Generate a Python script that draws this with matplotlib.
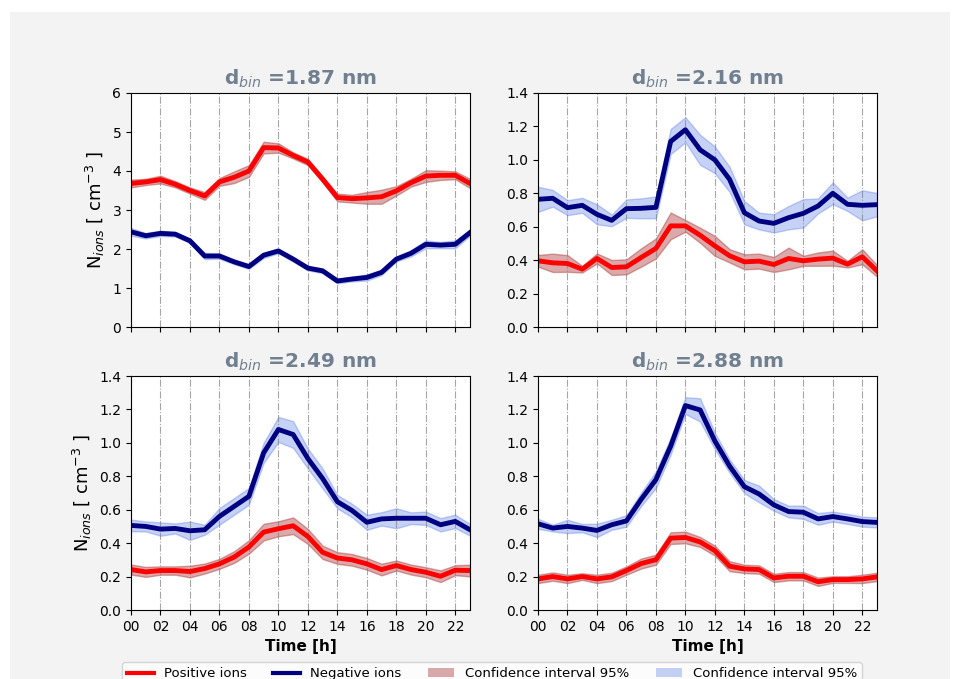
import numpy as np
import matplotlib
matplotlib.use("Agg")
import matplotlib.pyplot as plt
from matplotlib.patches import Rectangle, Patch
from matplotlib.lines import Line2D

hours = list(range(24))
xtick_labels = ["00", "02", "04", "06", "08", "10", "12", "14", "16", "18", "20", "22"]
titles = [r"d$_{bin}$ =1.87 nm", r"d$_{bin}$ =2.16 nm", r"d$_{bin}$ =2.49 nm", r"d$_{bin}$ =2.88 nm"]
ylims = [6, 1.4, 1.4, 1.4]

# d = 1.87 nm
pos_187 = [3.68, 3.72, 3.78, 3.66, 3.50, 3.36, 3.72, 3.84, 4.00, 4.60, 4.59, 4.40,
           4.23, 3.79, 3.32, 3.29, 3.31, 3.34, 3.49, 3.70, 3.87, 3.89, 3.89, 3.68]
pos_187_ci = [0.10, 0.08, 0.10, 0.08, 0.08, 0.10, 0.10, 0.15, 0.15, 0.15, 0.12, 0.08,
              0.08, 0.08, 0.10, 0.10, 0.15, 0.18, 0.12, 0.10, 0.15, 0.12, 0.10, 0.12]
neg_187 = [2.44, 2.34, 2.40, 2.38, 2.21, 1.82, 1.82, 1.67, 1.55, 1.84, 1.95, 1.74,
           1.51, 1.44, 1.18, 1.23, 1.27, 1.40, 1.74, 1.89, 2.12, 2.10, 2.12, 2.42]
neg_187_ci = [0.10, 0.07, 0.07, 0.06, 0.06, 0.08, 0.07, 0.06, 0.06, 0.07, 0.06, 0.06,
              0.06, 0.06, 0.06, 0.06, 0.08, 0.07, 0.06, 0.08, 0.10, 0.08, 0.10, 0.08]

# d = 2.16 nm
pos_216 = [0.396, 0.384, 0.380, 0.346, 0.410, 0.356, 0.360, 0.416, 0.470, 0.605, 0.605, 0.549,
           0.485, 0.426, 0.390, 0.394, 0.374, 0.410, 0.396, 0.406, 0.412, 0.376, 0.420, 0.336]
pos_216_ci = [0.035, 0.055, 0.050, 0.020, 0.030, 0.045, 0.045, 0.055, 0.060, 0.080, 0.035, 0.045,
              0.060, 0.040, 0.045, 0.045, 0.045, 0.065, 0.030, 0.040, 0.045, 0.020, 0.045, 0.035]
neg_216 = [0.764, 0.770, 0.714, 0.728, 0.674, 0.638, 0.708, 0.710, 0.716, 1.110, 1.180, 1.060,
           1.000, 0.883, 0.684, 0.634, 0.620, 0.654, 0.680, 0.724, 0.800, 0.734, 0.728, 0.732]
neg_216_ci = [0.075, 0.050, 0.045, 0.045, 0.060, 0.035, 0.055, 0.060, 0.065, 0.075, 0.075, 0.090,
              0.080, 0.075, 0.070, 0.050, 0.055, 0.070, 0.085, 0.045, 0.065, 0.040, 0.090, 0.070]

# d = 2.49 nm
pos_249 = [0.242, 0.228, 0.236, 0.236, 0.230, 0.248, 0.276, 0.317, 0.377, 0.466, 0.486, 0.504,
           0.440, 0.345, 0.311, 0.300, 0.276, 0.242, 0.266, 0.242, 0.226, 0.202, 0.238, 0.236]
pos_249_ci = [0.030, 0.030, 0.025, 0.025, 0.035, 0.030, 0.030, 0.035, 0.040, 0.050, 0.045, 0.050,
              0.045, 0.040, 0.035, 0.035, 0.035, 0.035, 0.030, 0.030, 0.030, 0.035, 0.030, 0.035]
neg_249 = [0.506, 0.500, 0.484, 0.488, 0.474, 0.480, 0.560, 0.620, 0.680, 0.940, 1.080, 1.050,
           0.906, 0.787, 0.648, 0.595, 0.525, 0.545, 0.549, 0.549, 0.549, 0.510, 0.530, 0.480]
neg_249_ci = [0.035, 0.030, 0.040, 0.030, 0.055, 0.030, 0.050, 0.050, 0.050, 0.060, 0.075, 0.080,
              0.060, 0.060, 0.040, 0.040, 0.045, 0.040, 0.060, 0.035, 0.040, 0.040, 0.040, 0.035]

# d = 2.88 nm
pos_288 = [0.186, 0.200, 0.186, 0.200, 0.186, 0.198, 0.236, 0.278, 0.301, 0.430, 0.434, 0.407,
           0.355, 0.262, 0.246, 0.242, 0.192, 0.202, 0.202, 0.169, 0.182, 0.182, 0.186, 0.198]
pos_288_ci = [0.025, 0.025, 0.025, 0.020, 0.025, 0.025, 0.025, 0.030, 0.030, 0.035, 0.035, 0.030,
              0.030, 0.030, 0.025, 0.025, 0.025, 0.025, 0.025, 0.025, 0.020, 0.020, 0.025, 0.025]
neg_288 = [0.516, 0.490, 0.500, 0.490, 0.476, 0.510, 0.533, 0.662, 0.780, 0.980, 1.223, 1.197,
           1.011, 0.861, 0.738, 0.694, 0.629, 0.589, 0.585, 0.545, 0.559, 0.545, 0.529, 0.524]
neg_288_ci = [0.030, 0.020, 0.040, 0.025, 0.040, 0.030, 0.035, 0.040, 0.050, 0.050, 0.050, 0.070,
              0.050, 0.040, 0.040, 0.050, 0.035, 0.035, 0.040, 0.035, 0.030, 0.030, 0.030, 0.030]

pos_list = [pos_187, pos_216, pos_249, pos_288]
pos_ci_list = [pos_187_ci, pos_216_ci, pos_249_ci, pos_288_ci]
neg_list = [neg_187, neg_216, neg_249, neg_288]
neg_ci_list = [neg_187_ci, neg_216_ci, neg_249_ci, neg_288_ci]

W, H = 962, 679
fig = plt.figure(figsize=(W / 100, H / 100), dpi=100, facecolor="white")
fig.patches.append(Rectangle((10 / W, 0), 940 / W, 1 - 12 / H, transform=fig.transFigure,
                             facecolor="#f3f3f3", edgecolor="none", zorder=-10))

lefts = [131, 538, 131, 538]
tops = [93, 93, 376, 376]
aw, ah = 339, 234

x = np.array(hours)
for i in range(4):
    ax = fig.add_axes([lefts[i] / W, 1 - (tops[i] + ah) / H, aw / W, ah / H])
    p = np.array(pos_list[i]); pc = np.array(pos_ci_list[i])
    n = np.array(neg_list[i]); nc = np.array(neg_ci_list[i])
    ax.fill_between(x, p - pc, p + pc, color="brown", alpha=0.4, linewidth=1)
    ax.fill_between(x, n - nc, n + nc, color="royalblue", alpha=0.3, linewidth=1)
    ax.plot(x, p, color="red", linewidth=3.5)
    ax.plot(x, n, color="navy", linewidth=3.5)
    ax.set_xlim(0, 23)
    ax.set_ylim(0, ylims[i])
    ax.set_xticks(range(0, 24, 2))
    if i >= 2:
        ax.set_xticklabels(xtick_labels, fontsize=10)
        ax.set_xlabel("Time [h]", fontsize=11, fontweight="bold")
    else:
        ax.set_xticklabels([])
    if i % 2 == 0:
        ax.set_ylabel(r"N$_{ions}$ [ cm$^{-3}$ ]", fontsize=13)
    ax.tick_params(labelsize=10)
    ax.grid(axis="x", color="gray", linestyle="-.", alpha=0.7)
    ax.set_title(titles[i], fontsize=14.5, fontweight="bold", color="slategray")

handles = [Line2D([], [], color="red", linewidth=3),
           Line2D([], [], color="navy", linewidth=3),
           Patch(facecolor="brown", alpha=0.4),
           Patch(facecolor="royalblue", alpha=0.3)]
labels = ["Positive ions", "Negative ions", "Confidence interval 95%", "Confidence interval 95%"]
fig.legend(handles, labels, loc="upper center", bbox_to_anchor=(492 / W, 1 - 662 / H),
           borderaxespad=0, ncol=4, fontsize=9.5, frameon=True, handlelength=2.0,
           columnspacing=2.0)

fig.savefig("out.png", dpi=100, facecolor=fig.get_facecolor())
